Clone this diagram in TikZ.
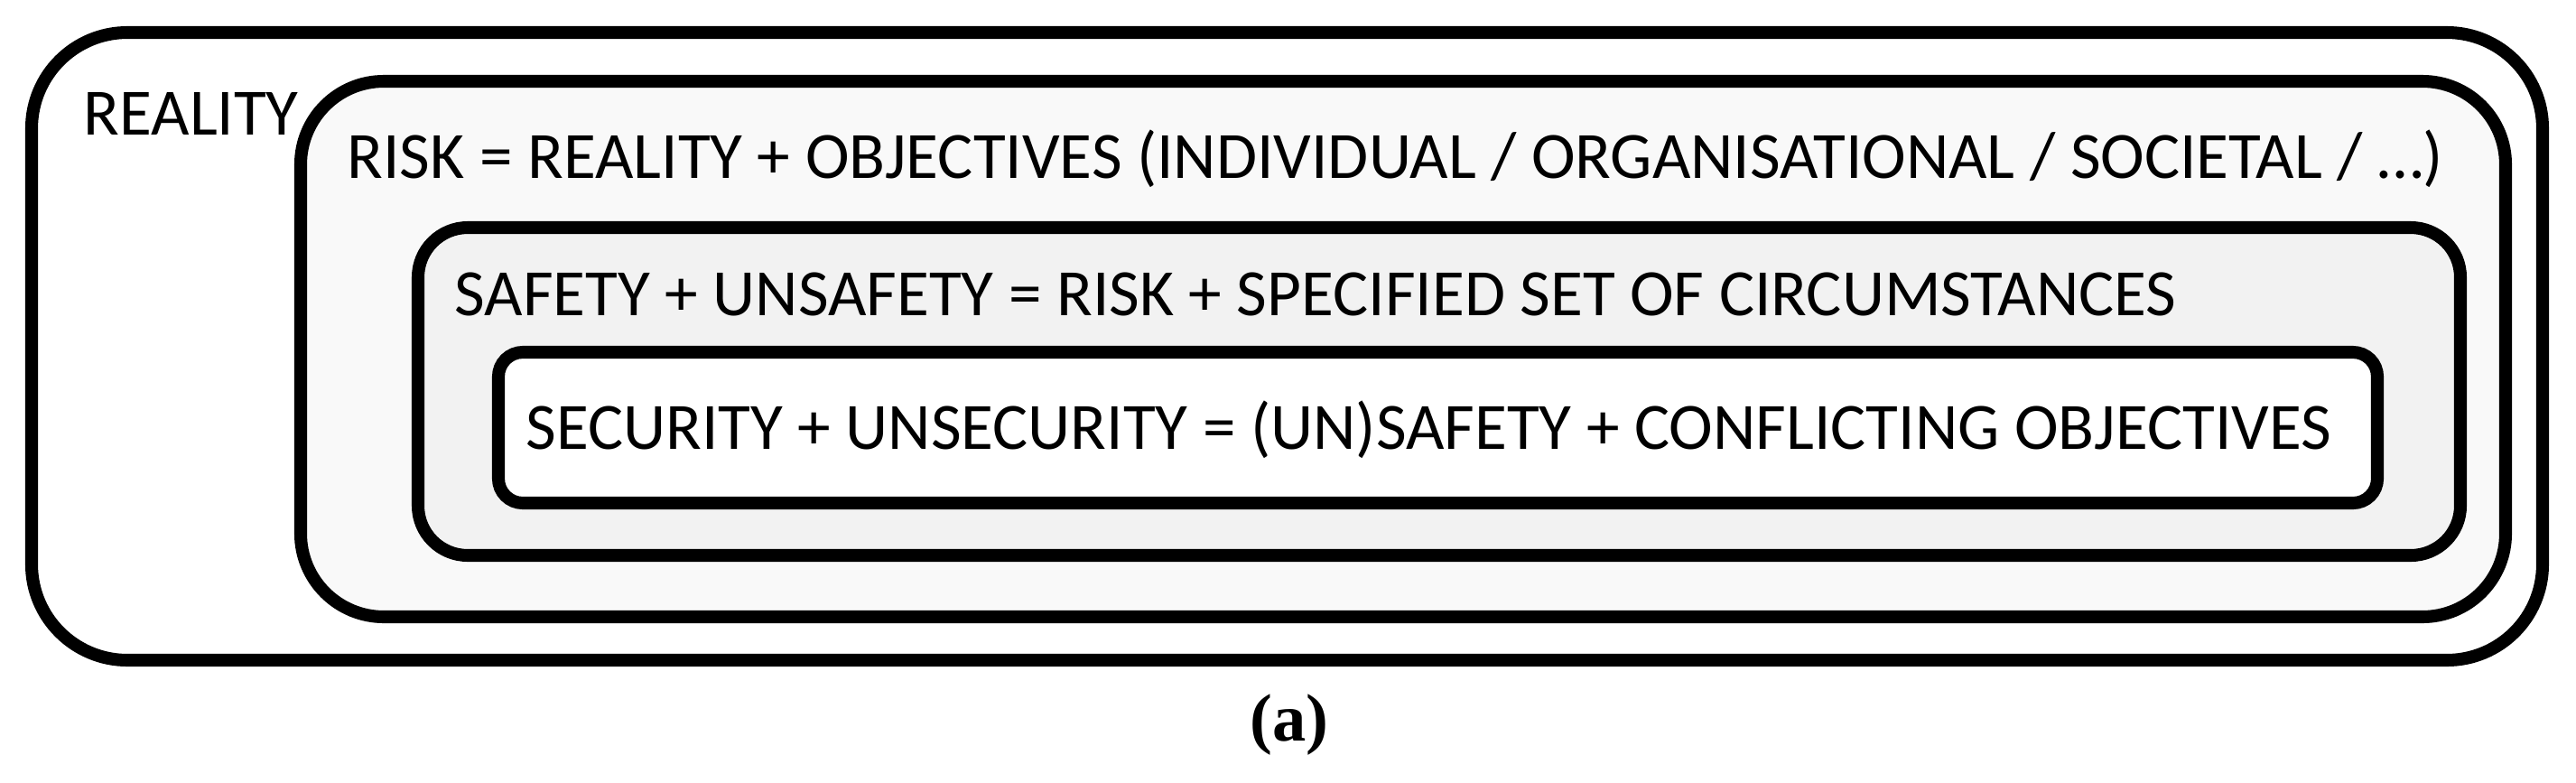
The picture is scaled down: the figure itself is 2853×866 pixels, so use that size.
\documentclass[tikz,border=0pt]{standalone}
\usepackage{fontspec}
\setmainfont{Carlito}
\newfontfamily\capfont{Liberation Serif}
\definecolor{riskfill}{HTML}{F9F9F9}
\definecolor{safefill}{HTML}{F2F2F2}
\begin{document}
\begin{tikzpicture}[x=0.01cm,y=-0.01cm,
  frame/.style={draw=black,line width=4pt},
  lbl/.style={anchor=base west,inner sep=0pt,font=\fontsize{20.85}{24}\selectfont}]
\useasboundingbox (0,0) rectangle (2853,866);
\fill[white] (0,0) rectangle (2853,866);
\draw[frame,fill=white,rounded corners=1.06cm] (35,36) rectangle (2816,731);
\draw[frame,fill=riskfill,rounded corners=0.92cm] (333,90) rectangle (2775,683);
\draw[frame,fill=safefill,rounded corners=0.55cm] (463,252) rectangle (2725,615);
\draw[frame,fill=white,rounded corners=0.27cm] (552,390) rectangle (2633,557);
\node[lbl] (reality) at (92,149) {REALITY};
\node[lbl] (risk) at (384,197) {RISK = REALITY + OBJECTIVES (INDIVIDUAL / ORGANISATIONAL / SOCIETAL / …)};
\node[lbl] (safety) at (503,349) {SAFETY + UNSAFETY = RISK + SPECIFIED SET OF CIRCUMSTANCES};
\node[lbl] (security) at (582,497) {SECURITY + UNSECURITY = (UN)SAFETY + CONFLICTING OBJECTIVES};
\node[anchor=base,inner sep=0pt,font=\capfont\bfseries\fontsize{21.2}{24}\selectfont] (cap) at (1428,820) {(a)};
\end{tikzpicture}
\end{document}
